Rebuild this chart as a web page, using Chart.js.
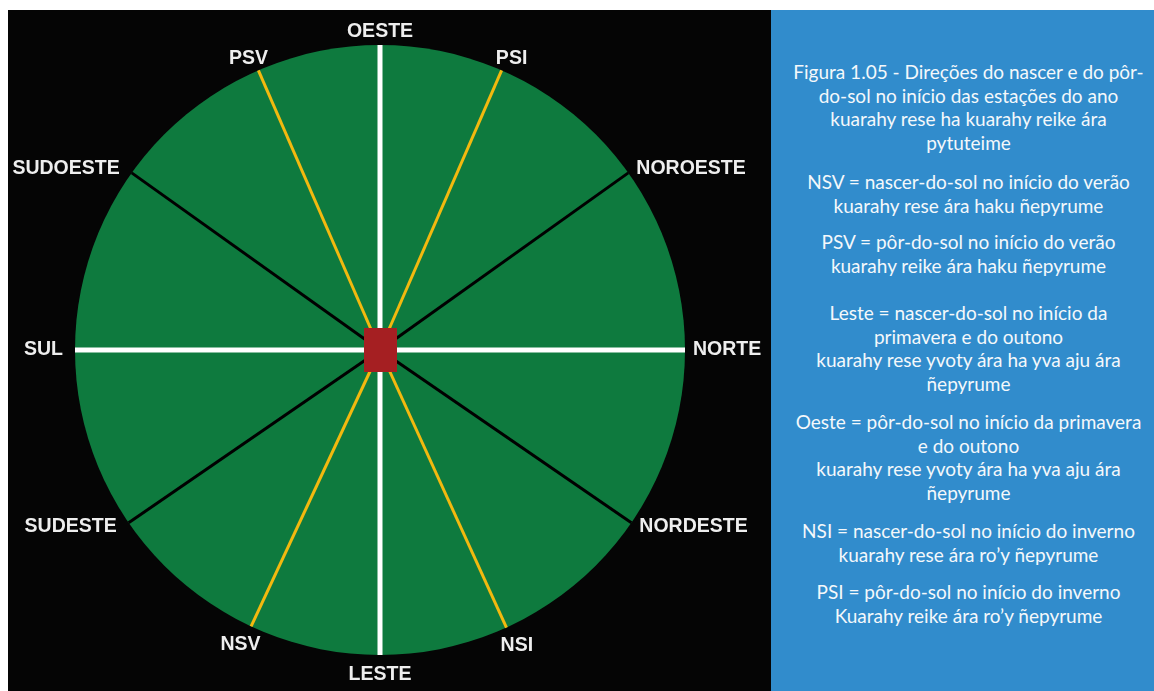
<!DOCTYPE html>
<html>
<head>
<meta charset="utf-8">
<script src="https://cdn.jsdelivr.net/npm/chart.js@4/dist/chart.umd.min.js"></script>
<style>
  html, body { margin: 0; padding: 0; background: #fff; }
  #stage { position: absolute; left: 8px; top: 10px; width: 763px; height: 681px; background: #050505; }
  #side { position: absolute; left: 771px; top: 10px; width: 383px; height: 681px; background: #318ccc;
          color: #f4f8fb; font-family: Lato, "Open Sans", sans-serif; font-size: 19px; line-height: 23.5px; text-align: center; }
  #side p { margin: 0; position: relative; left: 6px; white-space: nowrap; }
</style>
</head>
<body>
<div id="stage"><canvas id="rosa" width="763" height="681"></canvas></div>
<div id="side">
  <p style="margin-top:50px">Figura 1.05 - Direções do nascer e do pôr-<br>do-sol no início das estações do ano<br>kuarahy rese ha kuarahy reike ára<br>pytuteime</p>
  <p style="margin-top:16px">NSV = nascer-do-sol no início do verão<br>kuarahy rese ára haku ñepyrume</p>
  <p style="margin-top:13px">PSV = pôr-do-sol no início do verão<br>kuarahy reike ára haku ñepyrume</p>
  <p style="margin-top:24px">Leste = nascer-do-sol no início da<br>primavera e do outono<br>kuarahy rese yvoty ára ha yva aju ára<br>ñepyrume</p>
  <p style="margin-top:15px">Oeste = pôr-do-sol no início da primavera<br>e do outono<br>kuarahy rese yvoty ára ha yva aju ára<br>ñepyrume</p>
  <p style="margin-top:15px">NSI = nascer-do-sol no início do inverno<br>kuarahy rese ára ro’y ñepyrume</p>
  <p style="margin-top:14px">PSI = pôr-do-sol no início do inverno<br>Kuarahy reike ára ro’y ñepyrume</p>
</div>
<script>
// directions around the circle, angle in degrees (0 = right, counter-clockwise)
const directions = ['NORTE', 'NOROESTE', 'PSI', 'OESTE', 'PSV', 'SUDOESTE', 'SUL', 'SUDESTE', 'NSV', 'LESTE', 'NSI', 'NORDESTE'];
const angles = [0, 35.5, 66.5, 90, 113.5, 144.5, 180, 214.5, 245, 270, 294.5, 325.5];
const kinds = ['cardeal', 'colateral', 'sol', 'cardeal', 'sol', 'colateral', 'cardeal', 'colateral', 'sol', 'cardeal', 'sol', 'colateral'];
const radius = 1;

const kindColor = { cardeal: '#ffffff', sol: '#f2b90f', colateral: '#000000' };
const kindWidth = { cardeal: 5, sol: 3, colateral: 3 };

// red marker in the middle
const square = document.createElement('canvas');
square.width = 33; square.height = 44;
let sq = square.getContext('2d');
sq.fillStyle = '#a51f22';
sq.fillRect(0, 0, 33, 44);

function rad(a) { return a * Math.PI / 180 }

const datasets = [{
  data: [{ x: 0, y: 0 }],
  pointStyle: square,
  pointRadius: 20,
  clip: false
}];
['cardeal', 'sol', 'colateral'].forEach(k => {
  directions.forEach((d, i) => {
    if (kinds[i] != k) return;
    datasets.push({
      label: d,
      data: [{ x: 0, y: 0 }, { x: radius * Math.cos(rad(angles[i])), y: radius * Math.sin(rad(angles[i])) }],
      showLine: true,
      borderColor: kindColor[k],
      borderWidth: kindWidth[k],
      pointRadius: 0,
      clip: false
    });
  });
});

const disc = {
  id: 'disc',
  beforeDatasetsDraw(chart) {
    const { ctx, scales: { x, y } } = chart;
    let cx = x.getPixelForValue(0), cy = y.getPixelForValue(0);
    let r = x.getPixelForValue(radius) - cx;
    ctx.save();
    ctx.fillStyle = '#0e7a3e';
    ctx.beginPath();
    ctx.arc(cx, cy, r, 0, Math.PI * 2);
    ctx.fill();
    ctx.restore();
  }
};

const names = {
  id: 'names',
  afterDatasetsDraw(chart) {
    const { ctx, scales: { x, y } } = chart;
    ctx.save();
    ctx.font = 'bold 19.5px "Liberation Sans", Arial, sans-serif';
    ctx.fillStyle = '#eeeeee';
    ctx.textBaseline = 'middle';
    directions.forEach((d, i) => {
      let c = Math.cos(rad(angles[i])), s = Math.sin(rad(angles[i]));
      let px = x.getPixelForValue(radius * c), py = y.getPixelForValue(radius * s);
      if (Math.abs(c) >= 0.5) {
        ctx.textAlign = c > 0 ? 'left' : 'right';
        ctx.fillText(d, px + (c > 0 ? 8 : -12), py - s * 7);
      } else {
        ctx.textAlign = 'center';
        let off = s > 0 ? 13 : 20;
        ctx.fillText(d, px + c * 25, py - s * off);
      }
    });
    ctx.restore();
  }
};

new Chart(document.getElementById('rosa').getContext('2d'), {
  type: 'scatter',
  data: { datasets: datasets },
  options: {
    responsive: false,
    animation: false,
    events: [],
    layout: { padding: 0, autoPadding: false },
    scales: {
      x: { type: 'linear', min: -372 / 305, max: 391 / 305, display: false },
      y: { type: 'linear', min: -341 / 305, max: 340 / 305, display: false }
    },
    plugins: { legend: { display: false }, tooltip: { enabled: false } }
  },
  plugins: [disc, names]
});
</script>
</body>
</html>
